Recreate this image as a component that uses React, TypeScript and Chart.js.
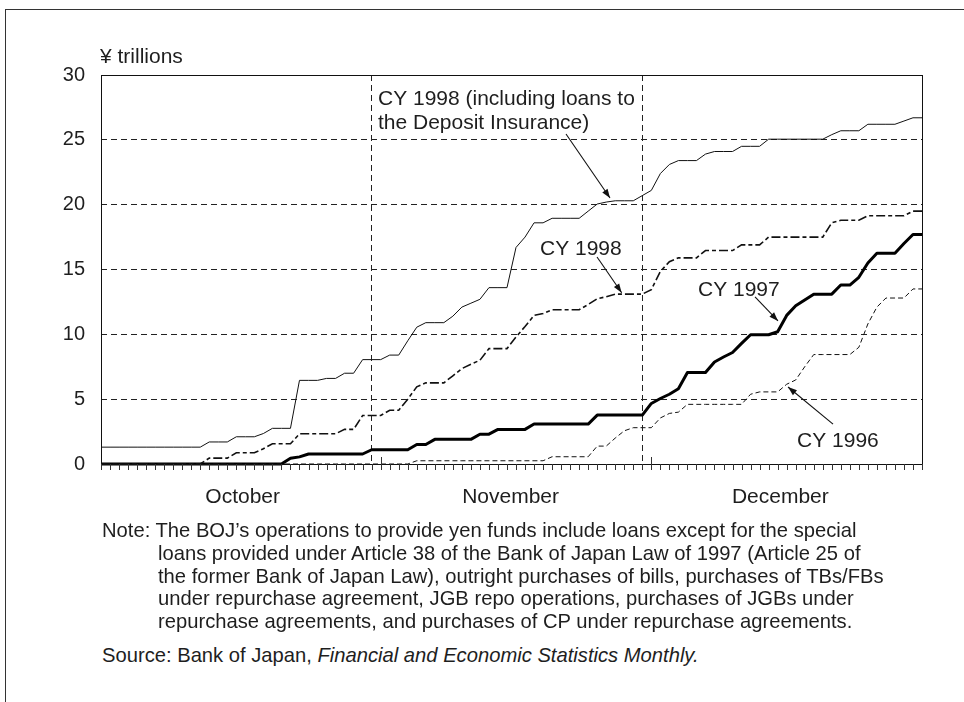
import React, { useEffect, useRef } from 'react';
import { Chart, registerables } from 'chart.js';

Chart.register(...registerables);

// ---- data ----
const MONTHS = ['October', 'November', 'December'];
const MONTH_SHORT = ['Oct', 'Nov', 'Dec'];
const MONTH_DAYS = [31, 30, 31];
const MONTH_LABEL_POS = [15.7, 45.4, 75.3];
const Y_TICKS = [0, 5, 10, 15, 20, 25, 30];

const LABELS: string[] = [];
MONTH_SHORT.forEach((m, k) => {
  for (let d = 1; d <= MONTH_DAYS[k]; d++) LABELS.push(`${m} ${d}`);
});
const MONTH_START: number[] = [MONTH_DAYS[0], MONTH_DAYS[0] + MONTH_DAYS[1]];

// CY 1998 (including loans to the Deposit Insurance)
const CY1998_DIC = [
  1.3, 1.3, 1.3, 1.3, 1.3, 1.3, 1.3, 1.3, 1.3, 1.3, 1.3, 1.3,
  1.7, 1.7, 1.7, 2.1, 2.1, 2.1, 2.35, 2.75, 2.75, 2.75,
  6.45, 6.45, 6.45, 6.6, 6.6, 7.0, 7.0, 8.05, 8.05,
  8.05, 8.4, 8.4, 9.5, 10.55, 10.9, 10.9, 10.9, 11.4, 12.1, 12.4, 12.7,
  13.6, 13.6, 13.6, 16.7, 17.5, 18.6, 18.6, 18.95, 18.95, 18.95, 18.95,
  19.5, 20.05, 20.2, 20.3, 20.3, 20.3, 20.7,
  21.1, 22.4, 23.1, 23.4, 23.4, 23.4, 23.9, 24.1, 24.1, 24.1, 24.5, 24.5, 24.5,
  25.05, 25.05, 25.05, 25.05, 25.05, 25.05, 25.05, 25.4, 25.7, 25.7, 25.7,
  26.2, 26.2, 26.2, 26.2, 26.45, 26.7, 26.7,
];

// CY 1998
const CY1998 = [
  0, 0, 0, 0, 0, 0, 0, 0, 0, 0, 0, 0,
  0.45, 0.45, 0.45, 0.87, 0.87, 0.87, 1.18, 1.56, 1.56, 1.56,
  2.33, 2.33, 2.33, 2.33, 2.33, 2.67, 2.67, 3.74, 3.74,
  3.74, 4.15, 4.15, 5.0, 5.95, 6.26, 6.26, 6.26, 6.8, 7.36, 7.7, 8.0,
  8.9, 8.9, 8.9, 9.8, 10.6, 11.46, 11.6, 11.9, 11.9, 11.9, 11.9,
  12.3, 12.75, 12.9, 13.1, 13.1, 13.1, 13.1,
  13.45, 14.85, 15.6, 15.9, 15.9, 15.9, 16.46, 16.46, 16.46, 16.46, 16.9, 16.9, 16.9,
  17.5, 17.5, 17.5, 17.5, 17.5, 17.5, 17.5, 18.6, 18.8, 18.8, 18.8,
  19.15, 19.15, 19.15, 19.15, 19.15, 19.5, 19.5,
];

// CY 1997
const CY1997 = [
  0, 0, 0, 0, 0, 0, 0, 0, 0, 0, 0, 0, 0, 0, 0, 0, 0, 0, 0, 0, 0,
  0.44, 0.55, 0.77, 0.77, 0.77, 0.77, 0.77, 0.77, 0.77,
  1.1, 1.1, 1.1, 1.1, 1.1, 1.5, 1.5, 1.9, 1.9, 1.9, 1.9, 1.9,
  2.3, 2.3, 2.67, 2.67, 2.67, 2.67, 3.08, 3.08, 3.08, 3.08, 3.08, 3.08, 3.08,
  3.77, 3.77, 3.77, 3.77, 3.77, 3.77,
  4.67, 5.05, 5.38, 5.8, 7.05, 7.05, 7.05, 7.87, 8.25, 8.6, 9.3, 9.97, 9.97, 9.97,
  10.2, 11.46, 12.2, 12.65, 13.1, 13.1, 13.1, 13.8, 13.8, 14.4, 15.5,
  16.25, 16.25, 16.25, 17.0, 17.7, 17.7,
];

// CY 1996
const CY1996 = [
  0, 0, 0, 0, 0, 0, 0, 0, 0, 0, 0, 0, 0, 0, 0, 0, 0, 0, 0, 0, 0, 0, 0, 0, 0, 0, 0, 0, 0, 0, 0,
  0, 0, 0, 0,
  0.25, 0.25, 0.25, 0.25, 0.25, 0.25, 0.25, 0.25, 0.25, 0.25, 0.25, 0.25, 0.25, 0.25, 0.25,
  0.56, 0.56, 0.56, 0.56, 0.56, 1.38, 1.38, 2.0, 2.56, 2.8,
  2.8, 2.8, 3.55, 3.9, 4.0, 4.6, 4.6, 4.6, 4.6, 4.6, 4.6, 4.6, 5.38, 5.56, 5.56, 5.56,
  6.15, 6.48, 7.5, 8.44, 8.44, 8.44, 8.44, 8.44, 9.0, 10.8, 12.1, 12.8, 12.8, 12.8,
  13.5, 13.5,
];

// annotation labels: text anchor and arrow in data coordinates (day index, value)
const ANNOTATIONS = [
  { lines: ['CY 1998 (including loans to', 'the Deposit Insurance)'], at: [30.7, 27.72], from: [51.54, 25.45], to: [56.42, 20.51] },
  { lines: ['CY 1998'], at: [48.66, 16.12], from: [54.98, 15.96], to: [57.71, 13.21] },
  { lines: ['CY 1997'], at: [66.17, 12.96], from: [72.49, 12.88], to: [75.04, 11.03] },
  { lines: ['CY 1996'], at: [77.15, 1.31], from: [81.14, 3.08], to: [76.15, 5.94] },
];

const FAMILY = '"Liberation Sans", Arial, Helvetica, sans-serif';
const FONT = `21px ${FAMILY}`;
const INK = '#1e1e1e';

function arrow(ctx: CanvasRenderingContext2D, x1: number, y1: number, x2: number, y2: number) {
  ctx.beginPath();
  ctx.moveTo(x1, y1);
  ctx.lineTo(x2, y2);
  ctx.stroke();
  const ang = Math.atan2(y2 - y1, x2 - x1);
  const L = 9, W = 3.2;
  const bx = x2 - L * Math.cos(ang), by = y2 - L * Math.sin(ang);
  ctx.beginPath();
  ctx.moveTo(x2, y2);
  ctx.lineTo(bx + W * Math.sin(ang), by - W * Math.cos(ang));
  ctx.lineTo(bx - W * Math.sin(ang), by + W * Math.cos(ang));
  ctx.closePath();
  ctx.fill();
}

const overlay = {
  id: 'overlay',
  afterDraw(chart: any) {
    const { ctx, chartArea: a, scales } = chart;
    const x = scales.x, y = scales.y;
    ctx.save();
    ctx.setLineDash([]);
    // plot frame
    ctx.strokeStyle = '#111';
    ctx.lineWidth = 1;
    ctx.strokeRect(Math.round(a.left) + 0.5, Math.round(a.top) + 0.5, Math.round(a.right - a.left), Math.round(a.bottom - a.top));
    // day ticks
    ctx.strokeStyle = '#333';
    ctx.beginPath();
    for (let i = 0; i < LABELS.length; i++) {
      const px = Math.round(x.getPixelForValue(i)) + 0.5;
      const top = MONTH_START.includes(i) ? a.bottom - 7 : a.bottom;
      ctx.moveTo(px, top);
      ctx.lineTo(px, a.bottom + 6);
    }
    ctx.stroke();
    // month labels
    ctx.font = FONT;
    ctx.fillStyle = INK;
    ctx.textAlign = 'center';
    ctx.textBaseline = 'alphabetic';
    MONTHS.forEach((m, k) => ctx.fillText(m, x.getPixelForValue(MONTH_LABEL_POS[k]), a.bottom + 38.5));
    // annotations
    ctx.textAlign = 'left';
    ctx.strokeStyle = '#111';
    ctx.fillStyle = INK;
    ctx.lineWidth = 1.1;
    ANNOTATIONS.forEach((an) => {
      const tx = x.getPixelForValue(an.at[0]);
      const ty = y.getPixelForValue(an.at[1]);
      an.lines.forEach((ln, j) => ctx.fillText(ln, tx, ty + j * 24.4));
      ctx.fillStyle = '#111';
      arrow(ctx, x.getPixelForValue(an.from[0]), y.getPixelForValue(an.from[1]), x.getPixelForValue(an.to[0]), y.getPixelForValue(an.to[1]));
      ctx.fillStyle = INK;
    });
    ctx.restore();
  },
};

export default function App() {
  const ref = useRef<HTMLCanvasElement>(null);

  useEffect(() => {
    if (!ref.current) return;
    const chart = new Chart(ref.current, {
      type: 'line',
      data: {
        labels: LABELS,
        datasets: [
          { label: 'CY 1998 (including loans to the Deposit Insurance)', data: CY1998_DIC, borderColor: '#111', borderWidth: 1, pointRadius: 0, tension: 0, fill: false, clip: 4 },
          { label: 'CY 1998', data: CY1998, borderColor: '#111', borderWidth: 1.6, borderDash: [9, 3, 4, 3], pointRadius: 0, tension: 0, fill: false, clip: 4 },
          { label: 'CY 1996', data: CY1996, borderColor: '#111', borderWidth: 1, borderDash: [5, 3], pointRadius: 0, tension: 0, fill: false, clip: 4 },
          { label: 'CY 1997', data: CY1997, borderColor: '#000', borderWidth: 3, pointRadius: 0, tension: 0, fill: false, clip: 4, borderJoinStyle: 'round' },
        ],
      } as any,
      options: {
        responsive: false,
        animation: false,
        devicePixelRatio: 1,
        layout: { padding: { left: 0, right: 42, top: 75, bottom: 0 } },
        plugins: { legend: { display: false }, tooltip: { enabled: false } },
        scales: {
          x: {
            type: 'category',
            offset: false,
            afterFit: (s: any) => { s.height = 56; },
            ticks: { display: false, autoSkip: false },
            grid: {
              drawTicks: false,
              offset: false,
              lineWidth: 1,
              color: (c: any) => (MONTH_START.map((v) => v - 1).includes(c.index) ? '#222' : 'rgba(0,0,0,0)'),
            },
            border: { display: false, dash: [6, 4] },
          },
          y: {
            min: 0,
            max: 30,
            afterFit: (s: any) => { s.width = 101; },
            afterBuildTicks: (s: any) => { s.ticks = Y_TICKS.map((v) => ({ value: v })); },
            ticks: { stepSize: 5, padding: 16, color: INK, font: { family: FAMILY, size: 20 } },
            grid: {
              drawTicks: false,
              lineWidth: 1,
              color: (c: any) => (c.tick && (c.tick.value === 0 || c.tick.value === 30) ? 'rgba(0,0,0,0)' : '#222'),
            },
            border: { display: false, dash: [6, 4] },
          },
        },
      },
      plugins: [overlay],
    });
    return () => chart.destroy();
  }, []);

  const textStyle: React.CSSProperties = {
    position: 'absolute',
    fontFamily: FAMILY,
    fontSize: 20.2,
    lineHeight: '22.6px',
    color: INK,
    whiteSpace: 'nowrap',
  };
  const noteLines = [
    'loans provided under Article 38 of the Bank of Japan Law of 1997 (Article 25 of',
    'the former Bank of Japan Law), outright purchases of bills, purchases of TBs/FBs',
    'under repurchase agreement, JGB repo operations, purchases of JGBs under',
    'repurchase agreements, and purchases of CP under repurchase agreements.',
  ];

  return (
    <div style={{ position: 'absolute', left: 0, top: 0, width: 964, height: 702, overflow: 'hidden', background: '#fff' }}>
      <div style={{ position: 'absolute', left: 5, top: 9, right: -2, bottom: -2, borderTop: '1px solid #333', borderLeft: '1px solid #333' }} />
      <canvas ref={ref} width={964} height={520} style={{ position: 'absolute', left: 0, top: 0 }} />
      <div style={{ ...textStyle, fontSize: 21, left: 100, top: 44.5 }}>¥ trillions</div>
      <div style={{ ...textStyle, left: 102, top: 519.3 }}>Note: The BOJ’s operations to provide yen funds include loans except for the special</div>
      {noteLines.map((t, i) => (
        <div key={i} style={{ ...textStyle, left: 158, top: 519.3 + (i + 1) * 22.6 }}>{t}</div>
      ))}
      <div style={{ ...textStyle, left: 102, top: 643.8 }}>
        Source: Bank of Japan, <i>Financial and Economic Statistics Monthly.</i>
      </div>
    </div>
  );
}
